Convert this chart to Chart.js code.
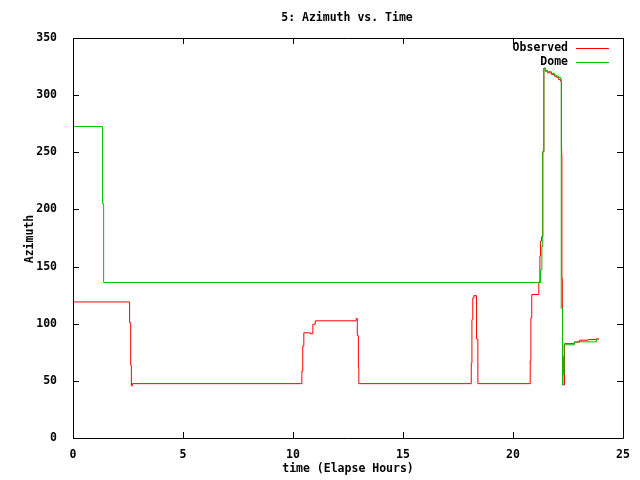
<!DOCTYPE html>
<html>
<head>
<meta charset="utf-8">
<script src="https://cdn.jsdelivr.net/npm/chart.js@4/dist/chart.umd.min.js"></script>
<style>
  html, body { margin: 0; padding: 0; background: #fff; }
  canvas { display: block; }
</style>
</head>
<body>
<canvas id="azChart" width="640" height="480"></canvas>
<script>
// values (hours, degrees)
const obsTime = [0, 2.55, 2.6, 2.63, 2.67, 10.38, 10.42, 10.47, 10.77, 10.88, 10.99, 12.85, 12.9, 12.95, 12.97,
  18.08, 18.11, 18.15, 18.2, 18.32, 18.38, 20.76, 20.79, 20.83, 21.15, 21.2, 21.23, 21.27, 21.33, 21.38,
  21.45, 21.55, 21.73, 21.86, 21.95, 22.05, 22.14, 22.18, 22.19, 22.2, 22.22, 22.23, 22.32, 22.77, 23.0, 23.4, 23.77, 23.88];
const obsAz = [119.5, 101.5, 64, 46, 48, 59, 81, 92.5, 91.6, 100, 103, 105, 90, 62, 48,
  66, 104, 123, 125, 87, 48, 68, 105.6, 126, 137, 159.6, 172.7, 176.4, 251, 324,
  321.4, 320, 318.5, 317, 316, 314, 312.6, 255, 248, 140, 114, 47, 83, 84.3, 86, 86.6, 87.2, 87.2];

const domeTime = [0, 1.32, 1.37, 21.23, 21.29, 21.33, 21.38, 21.45, 21.55, 21.73, 21.86, 21.95, 22.05, 22.14,
  22.17, 22.23, 22.25, 22.27, 22.3, 22.77, 23.77, 23.88];
const domeAz = [273, 205.6, 136.5, 147.6, 168, 251, 324, 322, 321, 319.5, 318, 317, 316, 314.6,
  114, 47, 72, 56, 82, 84.6, 87, 87];

const xTicks = [0, 5, 10, 15, 20, 25];
const yTicks = [0, 50, 100, 150, 200, 250, 300, 350];

const FONT = 'bold 11.5px "DejaVu Sans Mono", "Liberation Mono", monospace';

function toPoints(xs, ys) {
  return xs.map((x, i) => ({ x: x, y: ys[i] }));
}

// shift lines half a pixel so 1px strokes stay crisp
const crisp = {
  id: 'crisp',
  beforeDatasetsDraw(chart) { chart.ctx.save(); chart.ctx.translate(0.5, 0.5); },
  afterDatasetsDraw(chart) { chart.ctx.restore(); }
};

// gnuplot-like frame, inward ticks, titles and key
const gnuFrame = {
  id: 'gnuFrame',
  afterDraw(chart) {
    const ctx = chart.ctx;
    const a = chart.chartArea;
    const xs = chart.scales.x, ys = chart.scales.y;
    ctx.save();
    ctx.strokeStyle = '#000';
    ctx.lineWidth = 1;
    ctx.beginPath();
    ctx.rect(Math.round(a.left) + 0.5, Math.round(a.top) + 0.5,
      Math.round(a.right - a.left), Math.round(a.bottom - a.top));
    xTicks.forEach(v => {
      const px = Math.round(xs.getPixelForValue(v)) + 0.5;
      ctx.moveTo(px, a.bottom); ctx.lineTo(px, a.bottom - 6);
      ctx.moveTo(px, a.top); ctx.lineTo(px, a.top + 6);
    });
    yTicks.forEach(v => {
      const py = Math.round(ys.getPixelForValue(v)) + 0.5;
      ctx.moveTo(a.left, py); ctx.lineTo(a.left + 6, py);
      ctx.moveTo(a.right, py); ctx.lineTo(a.right - 6, py);
    });
    ctx.stroke();

    ctx.fillStyle = '#000';
    ctx.font = FONT;
    ctx.textBaseline = 'middle';
    ctx.textAlign = 'center';
    ctx.fillText('5: Azimuth vs. Time', 347, 18);
    ctx.fillText('time (Elapse Hours)', 348, 469);
    ctx.save();
    ctx.translate(30, 239);
    ctx.rotate(-Math.PI / 2);
    ctx.fillText('Azimuth', 0, 0);
    ctx.restore();

    // key
    ctx.textAlign = 'right';
    const key = [['Observed', '#ff0000'], ['Dome', '#00c000']];
    key.forEach((k, i) => {
      const y = 48 + i * 14;
      ctx.fillStyle = '#000';
      ctx.fillText(k[0], 568, y);
      ctx.strokeStyle = k[1];
      ctx.beginPath();
      ctx.moveTo(576, y + 0.5); ctx.lineTo(609, y + 0.5);
      ctx.stroke();
    });
    ctx.restore();
  }
};

new Chart(document.getElementById('azChart'), {
  type: 'line',
  data: {
    datasets: [
      {
        label: 'Observed',
        data: toPoints(obsTime, obsAz),
        borderColor: '#ff0000',
        borderWidth: 1,
        pointRadius: 0,
        stepped: true,
        order: 1
      },
      {
        label: 'Dome',
        data: toPoints(domeTime, domeAz),
        borderColor: '#00c000',
        borderWidth: 1,
        pointRadius: 0,
        stepped: true,
        order: 0
      }
    ]
  },
  options: {
    responsive: false,
    animation: false,
    devicePixelRatio: 1,
    layout: { padding: { top: 38, right: 17, left: 0, bottom: 0 } },
    plugins: {
      legend: { display: false },
      tooltip: { enabled: false },
      title: { display: false }
    },
    scales: {
      x: {
        type: 'linear',
        min: 0,
        max: 25,
        afterBuildTicks: s => { s.ticks = xTicks.map(v => ({ value: v })); },
        afterFit: s => { s.height = 42; },
        grid: { display: false },
        border: { display: false },
        ticks: { color: '#000', font: { family: '"DejaVu Sans Mono"', size: 11.5, weight: 'bold' }, padding: 2, maxRotation: 0 }
      },
      y: {
        min: 0,
        max: 350,
        afterBuildTicks: s => { s.ticks = yTicks.map(v => ({ value: v })); },
        afterFit: s => { s.width = 73; },
        grid: { display: false },
        border: { display: false },
        ticks: { color: '#000', font: { family: '"DejaVu Sans Mono"', size: 11.5, weight: 'bold' }, padding: 8 }
      }
    }
  },
  plugins: [crisp, gnuFrame]
});
</script>
</body>
</html>
